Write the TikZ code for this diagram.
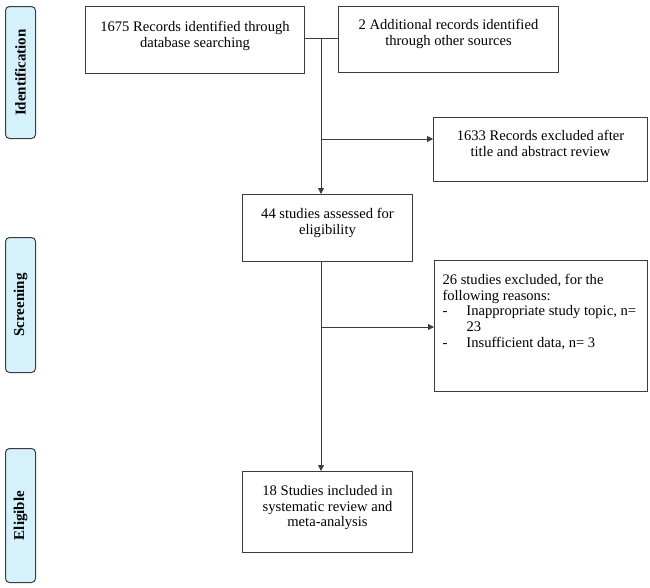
\documentclass[tikz,border=0pt]{standalone}
\usepackage{fontspec}
\setmainfont{Liberation Serif}
\usetikzlibrary{arrows.meta}
\definecolor{stagefill}{RGB}{212,241,252}
\definecolor{edgegray}{RGB}{60,60,60}
\newcommand{\bxtext}[4]{\parbox[t][#2][t]{#1}{\vspace*{#3}\centering #4\par}}
\newcommand{\bxleft}[4]{\parbox[t][#2][t]{#1}{\vspace*{#3}\raggedright #4\par}}
\tikzset{
  flowbox/.style={draw=edgegray, line width=1pt, inner sep=0pt, anchor=north west,
    font=\fontsize{14.6}{15.6}\selectfont},
  stagebox/.style={draw=edgegray, line width=1pt, fill=stagefill, rounded corners=4pt,
    inner sep=0pt, anchor=north west},
  stagetext/.style={rotate=90, font=\bfseries\fontsize{15}{16}\selectfont},
  conn/.style={draw=edgegray, line width=0.9pt},
  arr/.style={conn, -{Triangle[length=6pt,width=6pt]}}
}
\begin{document}
\begin{tikzpicture}[x=1pt,y=-1pt]
\useasboundingbox (0,0) rectangle (650,587);
% stage labels
\node[stagebox, minimum width=30pt, minimum height=132pt] (sid) at (5,6) {};
\node[stagetext] (tid) at (sid.center) {Identification};
\node[stagebox, minimum width=30pt, minimum height=135pt] (ssc) at (5,237) {};
\node[stagetext] (tsc) at (ssc.center) {Screening};
\node[stagebox, minimum width=30pt, minimum height=134pt] (sel) at (5,448) {};
\node[stagetext] (tel) at (sel.center) {Eligible};
% boxes
\node[flowbox] (b1) at (85,6) {\bxtext{219pt}{67pt}{15pt}{1675 Records identified through\\database searching}};
\node[flowbox] (b2) at (338,6) {\bxtext{220pt}{66pt}{13pt}{2 Additional records identified\\through other sources}};
\node[flowbox] (bx1) at (433,117) {\bxtext{214pt}{64pt}{13pt}{1633 Records excluded after\\title and abstract review}};
\node[flowbox] (b3) at (242,194) {\bxtext{170pt}{67pt}{14pt}{44 studies assessed for\\eligibility}};
\node[flowbox] (bx2) at (434,260) {\bxleft{213pt}{131pt}{14pt}{\hspace*{8pt}26 studies excluded, for the\\
\hspace*{8pt}following reasons:\\
\hspace*{8pt}\makebox[24pt][l]{-}Inappropriate study topic, n=\\
\hspace*{32pt}23\\
\hspace*{8pt}\makebox[24pt][l]{-}Insufficient data, n= 3}};
\node[flowbox] (b4) at (242,471) {\bxtext{170pt}{81pt}{14pt}{18 Studies included in\\systematic review and\\meta-analysis}};
% connectors
\coordinate (j1) at (321,38);
\coordinate (j2) at (321,139);
\coordinate (j3) at (321,327);
\draw[conn] (b1.east |- j1) -- (b2.west |- j1);
\draw[arr] (j1) -- (j1 |- b3.north);
\draw[arr] (j2) -- (bx1.west |- j2);
\draw[arr] (j1 |- b3.south) -- (j1 |- b4.north);
\draw[arr] (j3) -- (bx2.west |- j3);
\end{tikzpicture}
\end{document}
